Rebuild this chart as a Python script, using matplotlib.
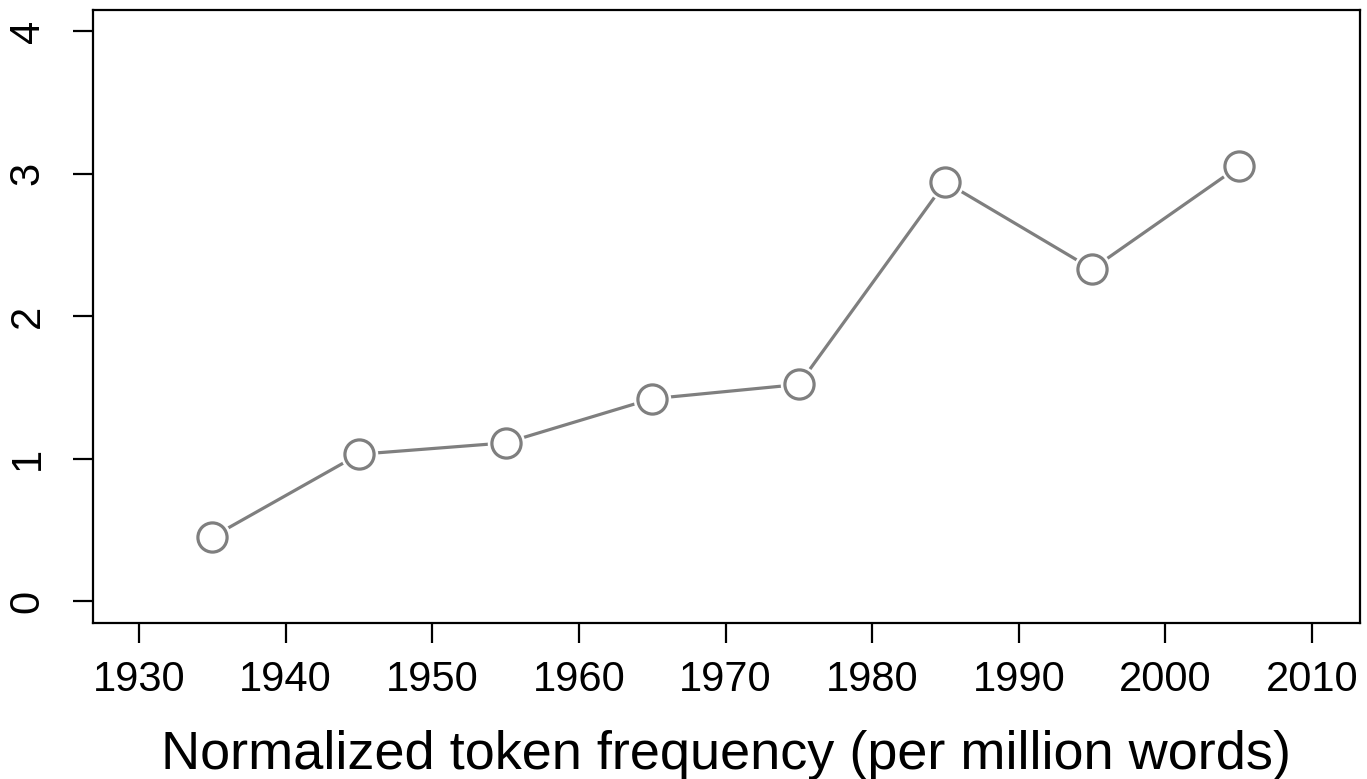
import numpy as np
import matplotlib.pyplot as plt

plt.rcParams['font.family'] = ['Liberation Sans', 'DejaVu Sans']

decades = [1935, 1945, 1955, 1965, 1975, 1985, 1995, 2005]
freq = [0.45, 1.03, 1.11, 1.42, 1.52, 2.94, 2.33, 3.05]
xticks = [1930, 1940, 1950, 1960, 1970, 1980, 1990, 2000, 2010]
yticks = [0, 1, 2, 3, 4]

grey = '#7f7f7f'

fig = plt.figure(figsize=(13.67, 7.79), dpi=100)
ax = fig.add_axes([0.068, 0.2003, 0.9269, 0.7867])

# R type="b": line with small gaps around the points
ax.plot(decades, freq, color=grey, lw=2.3, zorder=2)
ax.plot(decades, freq, 'o', ms=27, mfc='white', mec='white', mew=0, zorder=3)
ax.plot(decades, freq, 'o', ms=21, mfc='white', mec=grey, mew=2.3, zorder=4)

ax.set_xlim(1926.86, 2013.27)
ax.set_ylim(-0.154, 4.147)
ax.set_xticks(xticks)
ax.set_yticks(yticks)
ax.set_xticklabels([str(t) for t in xticks])
ax.set_yticklabels([str(t) for t in yticks], rotation=90, va='center')

for s in ax.spines.values():
    s.set_linewidth(1.6)
ax.tick_params(axis='both', length=14.5, width=1.6, labelsize=30)
ax.tick_params(axis='x', pad=12)
ax.tick_params(axis='y', pad=18)

ax.set_xlabel('Normalized token frequency (per million words)', fontsize=39, labelpad=22)

fig.savefig('out.png', dpi=100)
